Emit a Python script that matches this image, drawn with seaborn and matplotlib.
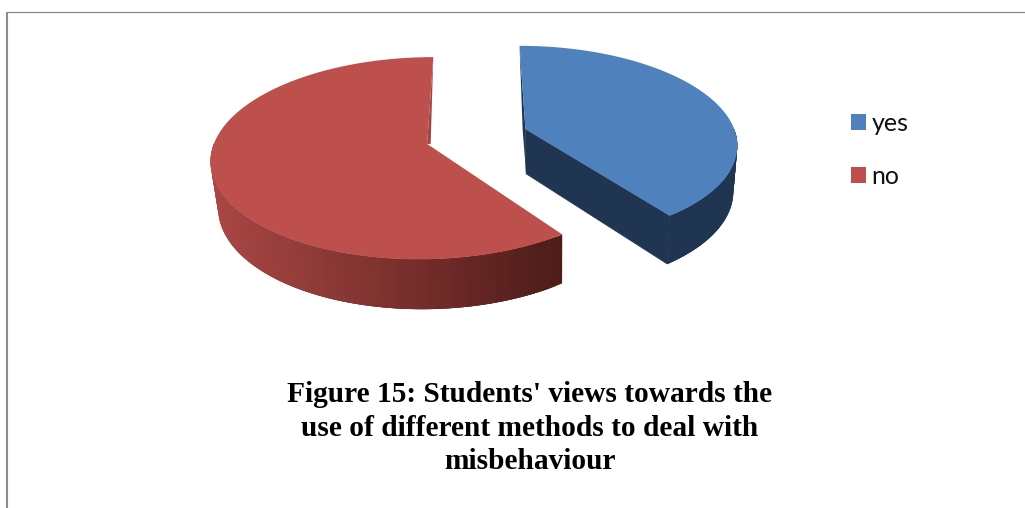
import numpy as np
import matplotlib
matplotlib.use("Agg")
import matplotlib.pyplot as plt
from matplotlib.patches import Patch
import seaborn as sns

categories = ["yes", "no"]
shares = [40, 60]
slice_colors = ["#4f81bd", "#bd4f4c"]
title_lines = ["Figure 15: Students' views towards the",
               "use of different methods to deal with",
               "misbehaviour"]

sns.set_theme(style="white")
plt.rcParams['font.family'] = ['Lato', 'DejaVu Sans']

# projection settings (pixel space of the figure)
XV, Y0, R, A, P, DEPTH, EXPLODE = 476.8, 136.5, 211.0, 97.0, 0.14, 45.0, 0.245
XZ = 555.0

def project(X, Y, lower=False):
    s = 1 / (1 + P * Y)
    x = XV + X * R * s
    y = Y0 - Y * A * s
    if lower:
        x = x + (XZ - x) * 0.022
        y = y + DEPTH * (1 - 0.1 * Y)
    return x, y

fig = plt.figure(figsize=(10.25, 5.08), dpi=100)
ax = fig.add_axes([0, 0, 1, 1])
ax.set_xlim(0, 1025)
ax.set_ylim(508, 0)
ax.axis("off")

ax.plot([7, 7], [508, 11.5], color="#8c8c8c", lw=1.5, solid_capstyle="butt")
ax.plot([6, 1025], [11.5, 11.5], color="#8c8c8c", lw=0.9, solid_capstyle="butt")

fractions = np.array(shares) / sum(shares)
edges = np.concatenate([[0], np.cumsum(fractions)]) * 2 * np.pi
wall_shades = sns.blend_palette(["#a84644", "#7d322e", "#4e1c1a"], 200)
blue_wall = "#1f3552"

slices = []
for i in range(len(shares)):
    a0, a1 = edges[i], edges[i + 1]
    mid = (a0 + a1) / 2
    cx, cy = EXPLODE * np.sin(mid), EXPLODE * np.cos(mid)
    t = np.linspace(a0, a1, 240)
    slices.append((i, cx, cy, cx + np.sin(t), cy + np.cos(t)))

for i, cx, cy, X, Y in slices:
    rim_x, rim_y = project(X, Y)
    low_x, low_y = project(X, Y, True)
    ax_, ay_ = project(cx, cy)
    bx_, by_ = project(cx, cy, True)
    front = Y - cy <= 0.02
    if i == 0:
        ax.fill([rim_x[-1], ax_, bx_, low_x[-1]], [rim_y[-1], ay_, by_, low_y[-1]],
                color=blue_wall, lw=0.4)
        ax.fill([rim_x[0], ax_ - 2.8, bx_, ax_], [rim_y[0], ay_, by_, ay_],
                color=blue_wall, lw=0)
    else:
        ax.fill([rim_x[-1], ax_ + 3.5, ax_ + 3.5, ax_], [rim_y[-1], ay_ + 1.5, ay_, ay_],
                color="#a04240", lw=0)
    # outer wall as overlapping strips swept from the rim to the lower rim
    idx = np.where(front)[0]
    for j in idx[::2]:
        k = min(j + 6, idx[-1])
        if k <= j:
            continue
        if i == 0:
            col = blue_wall
        else:
            f = np.clip((rim_x[j] - 215) / (561 - 215), 0, 1)
            col = wall_shades[int(f * 199)]
        ax.fill(np.r_[rim_x[j:k + 1], low_x[j:k + 1][::-1]],
                np.r_[rim_y[j:k + 1], low_y[j:k + 1][::-1]],
                color=col, lw=0)

for i, cx, cy, X, Y in slices:
    rim_x, rim_y = project(X, Y)
    ax_, ay_ = project(cx, cy)
    ax.fill(np.r_[ax_, rim_x], np.r_[ay_, rim_y], color=slice_colors[i], lw=0, zorder=3)

handles = [Patch(facecolor=c, edgecolor="none") for c in slice_colors]
ax.legend(handles, categories, loc="upper left", bbox_to_anchor=(851 / 1025, 1 - 112 / 508),
          frameon=False, fontsize=18, handlelength=0.6, handleheight=0.6,
          handletextpad=0.22, labelspacing=1.2, borderpad=0, borderaxespad=0,
          labelcolor="#111111")

ax.text(530, 428, "\n".join(title_lines), ha="center", va="center", multialignment="center",
        family=["Liberation Serif"], fontweight="bold", fontsize=21.15, color="black",
        linespacing=1.32)

fig.savefig("out.png", dpi=100, facecolor="white")
